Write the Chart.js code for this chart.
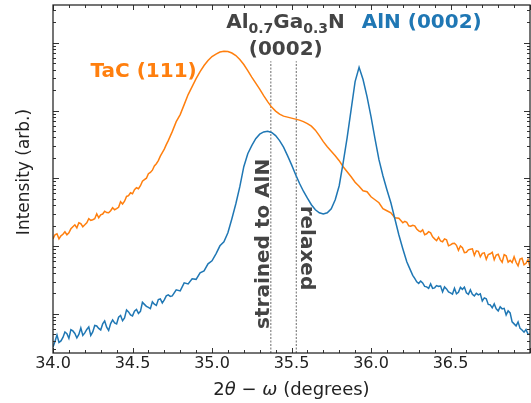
<!DOCTYPE html>
<html>
<head>
<meta charset="utf-8">
<title>TaC / AlGaN / AlN 2theta-omega scan</title>
<script src="https://cdn.jsdelivr.net/npm/chart.js"></script>
<style>
  html, body { margin: 0; padding: 0; background: #fff; }
  #wrap { width: 531px; height: 403px; }
</style>
</head>
<body>
<div id="wrap"><canvas id="xrd-chart" width="531" height="403"></canvas></div>
<script>
// scan angles (degrees); finer steps on the noisy tails
var twoTheta = [
  34.0000, 34.0125, 34.0250, 34.0375, 34.0500, 34.0625, 34.0750, 34.0875, 34.1000, 34.1125,
  34.1250, 34.1375, 34.1500, 34.1625, 34.1750, 34.1875, 34.2000, 34.2125, 34.2250, 34.2375,
  34.2500, 34.2625, 34.2750, 34.2875, 34.3000, 34.3125, 34.3250, 34.3375, 34.3500, 34.3625,
  34.3750, 34.3875, 34.4000, 34.4125, 34.4250, 34.4375, 34.4500, 34.4625, 34.4750, 34.4875,
  34.5000, 34.5125, 34.5250, 34.5375, 34.5500, 34.5625, 34.5750, 34.5875, 34.6000, 34.6125,
  34.6250, 34.6375, 34.6500, 34.6625, 34.6750, 34.6875, 34.7000, 34.7125, 34.7250, 34.7375,
  34.7500,
  34.775, 34.800, 34.825, 34.850, 34.875, 34.900, 34.925, 34.950, 34.975,
  35.000, 35.025, 35.050, 35.075, 35.100, 35.125, 35.150, 35.175, 35.200, 35.225,
  35.250, 35.275, 35.300, 35.325, 35.350, 35.375, 35.400, 35.425, 35.450, 35.475,
  35.500, 35.525, 35.550, 35.575, 35.600, 35.625, 35.650, 35.675, 35.700, 35.725,
  35.750, 35.775, 35.800, 35.825, 35.850, 35.875, 35.900, 35.925, 35.950, 35.975,
  36.000, 36.025, 36.050, 36.075, 36.100, 36.125, 36.150, 36.175, 36.200,
  36.2125, 36.2250, 36.2375, 36.2500, 36.2625, 36.2750, 36.2875, 36.3000, 36.3125, 36.3250,
  36.3375, 36.3500, 36.3625, 36.3750, 36.3875, 36.4000, 36.4125, 36.4250, 36.4375, 36.4500,
  36.4625, 36.4750, 36.4875, 36.5000, 36.5125, 36.5250, 36.5375, 36.5500, 36.5625, 36.5750,
  36.5875, 36.6000, 36.6125, 36.6250, 36.6375, 36.6500, 36.6625, 36.6750, 36.6875, 36.7000,
  36.7125, 36.7250, 36.7375, 36.7500, 36.7625, 36.7750, 36.7875, 36.8000, 36.8125, 36.8250,
  36.8375, 36.8500, 36.8625, 36.8750, 36.8875, 36.9000, 36.9125, 36.9250, 36.9375, 36.9500,
  36.9625, 36.9750, 36.9875, 37.0000
];

// TaC film (orange)
var tacCounts = [
  128, 147, 152, 128, 142, 149.4, 163, 147, 157, 180,
  193, 206, 186, 221, 214, 193, 206, 221, 253, 240,
  245, 253, 300, 262, 290, 297.4, 327, 313, 310, 332,
  368, 344, 356, 374.2, 451, 418, 459, 540, 553, 612.9,
  592, 679, 726, 702, 778, 906, 954, 1003, 1169, 1220,
  1317, 1522, 1643, 1820, 2121, 2389, 2692, 3135, 3593, 4188,
  4879,
  6856, 8697, 12220, 17170, 22540, 29590, 37550, 46050, 54580,
  62540, 68090, 72890, 74900, 74140, 70440, 64700, 56470, 47650, 38850,
  31140, 25390, 20700, 16600, 13540, 11230, 9800, 8846, 8268, 7991,
  7723, 7465, 7215, 6856, 6405, 5884, 5135, 4259, 3472, 2930,
  2515, 2158, 1820, 1484, 1252, 1056, 876, 765, 656, 634,
  535, 483, 436, 356, 332, 310, 262, 257, 221,
  232, 225, 199.5, 196, 203, 199, 179, 168, 162.6, 174,
  147, 152, 163, 157, 137, 128, 120.8, 135, 119, 116,
  128, 124, 101, 104.5, 109.1, 110, 102.7, 86.7, 100.2, 94.4,
  80.3, 81.0, 88.2, 89.7, 91.2, 73.1, 85.2, 83.8, 69.5, 78.3,
  79.6, 63.9, 75.0, 77.0, 81.0, 62.8, 73.8, 75.7, 63.9, 57.7,
  75.0, 72.0, 58.1, 61.7, 57.2, 69.5, 57.7, 51.2, 64.4, 66.1,
  52.9, 55.7, 63.3, 49.5
];

// AlGaN on AlN template (blue)
var alnCounts = [
  3.25, 3.92, 4.90, 3.79, 3.99, 4.50, 5.42, 5.11, 4.35, 5.85,
  5.61, 5.15, 4.42, 4.98, 6.21, 4.81, 5.24, 5.90, 6.43, 4.81,
  5.42, 6.76, 6.65, 6.11, 5.80, 7.12, 7.88, 6.37, 5.70, 7.18,
  8.15, 7.36, 7.12, 8.95, 9.50, 7.95, 8.73, 11.46, 10.71, 9.67,
  9.34, 10.98, 11.66, 10.17, 10.89, 14.79, 13.81, 12.91, 12.48, 11.96,
  15.04, 13.93, 13.35, 16.24, 16.66, 14.54, 16.10, 18.45, 19.09, 18.14,
  18.45,
  22.62, 21.86, 28.70, 27.73, 32.88, 32.33, 40.33, 43.17, 54.77,
  60.66, 76.96, 101.0, 115.7, 157.2, 253.1, 421.5, 751.6, 1484, 2309,
  3031, 3846, 4482, 4830, 4930, 4749, 4259, 3593, 2881, 2158,
  1589, 1150, 846.6, 644.9, 508.3, 407.5, 343.7, 310.4, 296.9, 310.4,
  355.6, 483.0, 777.5, 1700, 3979, 10310, 26720, 43460, 28600, 16050,
  8128, 3846, 1883, 1093, 678.6, 436.1, 253.1, 146.9, 91.23,
  73.1, 58.63, 50.3, 43.17, 37.04, 33.44, 29.69, 28.21, 30.46, 28.70,
  25.48, 25.05, 23.80, 27.73, 23.80, 24.21, 26.14, 25.48, 25.70, 21.13,
  25.05, 23.40, 21.13, 20.43, 19.58, 23.80, 19.74, 20.77, 24.63, 23.01,
  24.84, 20.43, 19.41, 22.62, 19.41, 18.45, 20.08, 19.09, 19.74, 15.56,
  17.23, 16.66, 13.81, 13.58, 12.27, 14.05, 11.86, 11.08, 12.69, 11.86,
  12.06, 9.67, 11.08, 10.35, 7.62, 7.12, 6.65, 7.62, 6.11, 5.80,
  5.38, 5.90, 5.02, 5.06
];

// expected AlGaN (0002) positions: strained to AlN, relaxed
var alganPeaks = [35.37, 35.53];
var alganMarkTop = 53300;

var xTickLabels = ['34.0', '34.5', '35.0', '35.5', '36.0', '36.5'];
var xRange = [34.0, 37.0];
var yRange = [2.65, 360000];

var ORANGE = '#ff7f0e', BLUE = '#1f77b4', GREY = '#444444', INK = '#222222';
var FONT = 'DejaVu Sans';

function series(ys) {
    return twoTheta.map(function (x, i) { return { x: x, y: ys[i] }; });
}

function marker(x) {
    return {
        data: [{ x: x, y: yRange[0] }, { x: x, y: alganMarkTop }],
        borderColor: '#5a5a5a',
        borderWidth: 0.9,
        borderDash: [2, 1.5],
        pointRadius: 0
    };
}

// draw a row of text pieces (used for the subscripted formula)
function drawRuns(c, runs, cx, base) {
    var total = 0;
    runs.forEach(function (r) { c.font = r.font; r.w = c.measureText(r.t).width; total += r.w; });
    var x = cx - total / 2;
    c.textAlign = 'left';
    c.textBaseline = 'alphabetic';
    runs.forEach(function (r) { c.font = r.font; c.fillText(r.t, x, base + (r.dy || 0)); x += r.w; });
}

// box round the plot with inward ticks on all four sides
var frame = {
    id: 'frame',
    afterDatasetsDraw: function (chart) {
        var c = chart.ctx, a = chart.chartArea;
        var xs = chart.scales.x, ys = chart.scales.y;
        c.save();
        c.strokeStyle = '#333';
        c.lineWidth = 1;
        c.beginPath();
        for (var k = 0; k <= 30; k++) {
            var px = Math.round(xs.getPixelForValue(34 + k / 10)) + 0.5;
            var len = (k % 5 === 0) ? 5 : 3;
            c.moveTo(px, a.bottom); c.lineTo(px, a.bottom - len);
            c.moveTo(px, a.top); c.lineTo(px, a.top + len);
        }
        for (var e = 0; e <= 5; e++) {
            for (var m = 1; m <= 9; m++) {
                var v = m * Math.pow(10, e);
                if (v < ys.min || v > ys.max) continue;
                var py = Math.round(ys.getPixelForValue(v)) + 0.5;
                var l = (m === 1) ? 6 : 3;
                c.moveTo(a.left, py); c.lineTo(a.left + l, py);
                c.moveTo(a.right, py); c.lineTo(a.right - l, py);
            }
        }
        c.stroke();
        c.lineWidth = 1.25;
        c.strokeStyle = INK;
        c.strokeRect(a.left, a.top, a.right - a.left, a.bottom - a.top);
        c.restore();
    }
};

// peak names, marker captions and axis titles
var captions = {
    id: 'captions',
    afterDraw: function (chart) {
        var c = chart.ctx, a = chart.chartArea;
        var xs = chart.scales.x, ys = chart.scales.y;
        var X = function (v) { return xs.getPixelForValue(v); };
        var Y = function (v) { return ys.getPixelForValue(v); };
        var bold = 'bold 20px "' + FONT + '"', sub = 'bold 14px "' + FONT + '"';
        c.save();

        c.fillStyle = ORANGE;
        drawRuns(c, [{ t: 'TaC (111)', font: bold }], X(34.570), Y(31360));
        c.fillStyle = BLUE;
        drawRuns(c, [{ t: 'AlN (0002)', font: bold }], X(36.319), Y(162100));

        c.fillStyle = GREY;
        drawRuns(c, [
            { t: 'Al', font: bold }, { t: '0.7', font: sub, dy: 5 },
            { t: 'Ga', font: bold }, { t: '0.3', font: sub, dy: 5 },
            { t: 'N', font: bold }
        ], X(35.462), Y(162100));
        drawRuns(c, [{ t: '(0002)', font: bold }], X(35.464), Y(66950));

        // rotated captions beside the two markers
        c.font = bold;
        c.textAlign = 'center';
        c.textBaseline = 'alphabetic';
        c.save();
        c.translate(X(alganPeaks[0]) - 1.5, Y(108));
        c.rotate(-Math.PI / 2);
        c.fillText('strained to AlN', 0, 0);
        c.restore();
        c.save();
        c.translate(X(alganPeaks[1]) + 5, Y(94));
        c.rotate(Math.PI / 2);
        c.fillText('relaxed', 0, 0);
        c.restore();

        // axis titles
        c.fillStyle = INK;
        var reg = '18px "' + FONT + '"', ital = 'oblique 18px "' + FONT + '"';
        drawRuns(c, [
            { t: '2', font: reg }, { t: 'θ', font: ital }, { t: ' \u2212 ', font: reg },
            { t: 'ω', font: ital }, { t: ' (degrees)', font: reg }
        ], (a.left + a.right) / 2, 394.5);
        c.save();
        c.font = '17px "' + FONT + '"';
        c.textAlign = 'center';
        c.translate(29, 172);
        c.rotate(-Math.PI / 2);
        c.fillText('Intensity (arb.)', 0, 0);
        c.restore();

        c.restore();
    }
};

var ctx = document.getElementById('xrd-chart').getContext('2d');
var chart = new Chart(ctx, {
    type: 'line',
    data: {
        datasets: [
            { data: series(alnCounts), borderColor: BLUE, borderWidth: 1.5 },
            { data: series(tacCounts), borderColor: ORANGE, borderWidth: 1.5 },
            marker(alganPeaks[0]),
            marker(alganPeaks[1])
        ]
    },
    options: {
        responsive: false,
        animation: false,
        devicePixelRatio: 1,
        layout: { padding: { top: 5, right: 1, left: 0, bottom: 0 } },
        elements: { point: { radius: 0 }, line: { tension: 0, fill: false } },
        plugins: { legend: { display: false }, tooltip: { enabled: false } },
        scales: {
            x: {
                type: 'linear', min: xRange[0], max: xRange[1],
                grid: { display: false, drawTicks: false },
                border: { display: false },
                ticks: {
                    stepSize: 0.5, autoSkip: false, maxRotation: 0, padding: 1,
                    color: INK, font: { family: FONT, size: 16 },
                    callback: function (v) {
                        var s = Number(v).toFixed(1);
                        return xTickLabels.indexOf(s) >= 0 ? s : '';
                    }
                },
                afterFit: function (s) { s.height = 50; }
            },
            y: {
                type: 'logarithmic', min: yRange[0], max: yRange[1], bounds: 'data',
                grid: { display: false, drawTicks: false },
                border: { display: false },
                ticks: { display: false },
                afterFit: function (s) { s.width = 53; }
            }
        }
    },
    plugins: [frame, captions]
});
</script>
</body>
</html>
